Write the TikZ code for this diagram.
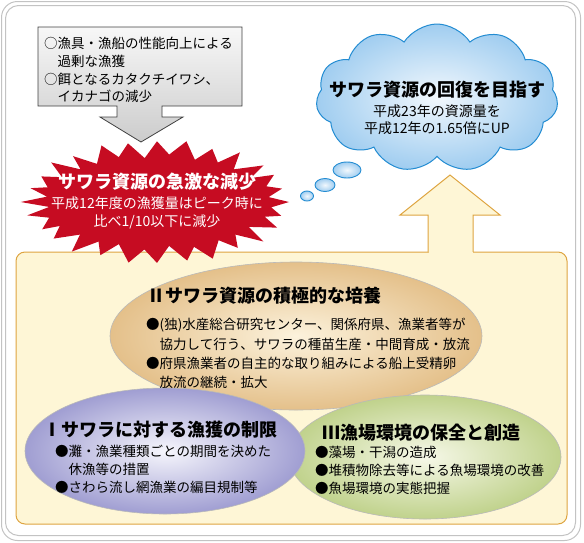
\documentclass[tikz,border=0pt]{standalone}
\usepackage{fontspec}
\setmainfont{Noto Sans CJK JP}
\usetikzlibrary{shapes.symbols,shapes.geometric}
\definecolor{framegray}{RGB}{195,195,195}
\definecolor{boxyellow}{RGB}{254,246,214}
\definecolor{boxorange}{RGB}{222,164,64}
\definecolor{burstred}{RGB}{198,12,34}
\definecolor{cloudline}{RGB}{35,140,210}
\definecolor{cloudin}{RGB}{242,248,253}
\definecolor{cloudout}{RGB}{160,205,240}
\definecolor{tanin}{RGB}{252,242,220}
\definecolor{tanout}{RGB}{228,192,138}
\definecolor{lavin}{RGB}{246,246,252}
\definecolor{lavout}{RGB}{160,158,210}
\definecolor{grnin}{RGB}{246,248,232}
\definecolor{grnout}{RGB}{192,210,140}
\begin{document}
\begin{tikzpicture}[x=1pt,y=-1pt,
  frameline/.style={draw=framegray,line width=1pt},
  ybox/.style={fill=boxyellow,draw=boxorange,line width=1pt},
  ell/.style={draw=gray!55,line width=0.6pt},
  bubble/.style={draw=cloudline,line width=0.9pt,inner color=cloudin,outer color=cloudout},
  txt/.style={inner sep=0pt,anchor=west,font=\fontsize{13.5}{16}\selectfont},
  ctxt/.style={inner sep=0pt,anchor=center,font=\fontsize{14}{16}\selectfont},
  ttl/.style={inner sep=0pt,anchor=west,font=\fontsize{18}{20}\bfseries\selectfont},
  cttl/.style={inner sep=0pt,anchor=center,font=\fontsize{18}{20}\bfseries\selectfont}]
\useasboundingbox (0,0) rectangle (584,542);
% outer frame
\draw[frameline,rounded corners=16] (1.5,1.5) rectangle (580.5,540.5);
\draw[frameline,rounded corners=13] (5.5,5.5) rectangle (575.5,535.5);
% yellow box with up arrow
\filldraw[ybox,rounded corners=9] (16,252) rectangle (567,524);
\fill[boxyellow] (428.5,253.5) -- (428.5,215) -- (473,215) -- (473,253.5) -- cycle;
\draw[ybox,fill=boxyellow,line join=miter] (428,252) -- (428,215) -- (400,215) -- (450,175) -- (500,215) -- (473,215) -- (473,252);
\fill[boxyellow] (428.5,251.5) rectangle (472.5,253);
% ellipses
\draw[ell,inner color=tanin,outer color=tanout] (296,336) ellipse [x radius=186,y radius=74];
\draw[ell,inner color=grnin,outer color=grnout] (425,457) ellipse [x radius=136,y radius=62];
\draw[ell,inner color=lavin,outer color=lavout] (165,451) ellipse [x radius=140,y radius=63];
% starburst
\fill[burstred] (157+132,202) \foreach \i in {1,...,55} {
  -- ({157+(isodd(\i) ? 112 : 132)*(1+0.035*sin(\i*131))*cos(\i*45/7)},
      {202+(isodd(\i) ? 46 : 61)*(1+0.04*sin(\i*77))*sin(\i*45/7)}) } -- cycle;
% gray box with down arrow
\draw[draw=black!75,line width=0.8pt,top color=gray!6,bottom color=gray!40,line join=miter]
  (38,27) -- (242,27) -- (242,106) -- (162,106) -- (162,117) -- (183,117) -- (141,142)
  -- (100,117) -- (117,117) -- (117,106) -- (38,106) -- cycle;
% thought bubbles and cloud
\draw[bubble] (307,196) ellipse [x radius=6.5,y radius=5];
\draw[bubble] (325,185) ellipse [x radius=10,y radius=6.5];
\draw[bubble] (347,170) ellipse [x radius=14,y radius=8];
\node[cloud,cloud puffs=11,cloud puff arc=115,aspect=1.65,draw=cloudline,line width=1pt,
  inner color=cloudin,outer color=cloudout,minimum width=242,minimum height=148,inner sep=0pt]
  (cloud) at (437,98) {};
% texts: gray box
\node[txt] (g1) at (44,43) {○漁具・漁船の性能向上による};
\node[txt] (g2) at (44,61) {　過剰な漁獲};
\node[txt] (g3) at (44,79) {○餌となるカタクチイワシ、};
\node[txt] (g4) at (44,96) {　イカナゴの減少};
% starburst texts
\node[cttl,text=white] (b1) at (157,182) {サワラ資源の急激な減少};
\node[ctxt,text=white] (b2) at (157,203) {平成12年度の漁獲量はピーク時に};
\node[ctxt,text=white] (b3) at (157,222) {比べ1/10以下に減少};
% cloud texts
\node[cttl] (c1) at (437,90) {サワラ資源の回復を目指す};
\node[ctxt] (c2) at (437,111) {平成23年の資源量を};
\node[ctxt] (c3) at (437,128) {平成12年の1.65倍にUP};
% ellipse II
\node[ttl] (e2t) at (147,296) {Ⅱサワラ資源の積極的な培養};
\node[txt] (e21) at (146,325) {●(独)水産総合研究センター、関係府県、漁業者等が};
\node[txt] (e22) at (146,344) {\phantom{●}協力して行う、サワラの種苗生産・中間育成・放流};
\node[txt] (e23) at (146,363) {●府県漁業者の自主的な取り組みによる船上受精卵};
\node[txt] (e24) at (146,382) {\phantom{●}放流の継続・拡大};
% ellipse I
\node[ttl] (e1t) at (43,430) {Ⅰサワラに対する漁獲の制限};
\node[txt] (e11) at (55,451) {●灘・漁業種類ごとの期間を決めた};
\node[txt] (e12) at (55,469) {\phantom{●}休漁等の措置};
\node[txt] (e13) at (55,487) {●さわら流し網漁業の編目規制等};
% ellipse III
\node[ttl] (e3t) at (322,433) {Ⅲ漁場環境の保全と創造};
\node[txt] (e31) at (315,452) {●藻場・干潟の造成};
\node[txt] (e32) at (315,470) {●堆積物除去等による魚場環境の改善};
\node[txt] (e33) at (315,488) {●魚場環境の実態把握};
\end{tikzpicture}
\end{document}
